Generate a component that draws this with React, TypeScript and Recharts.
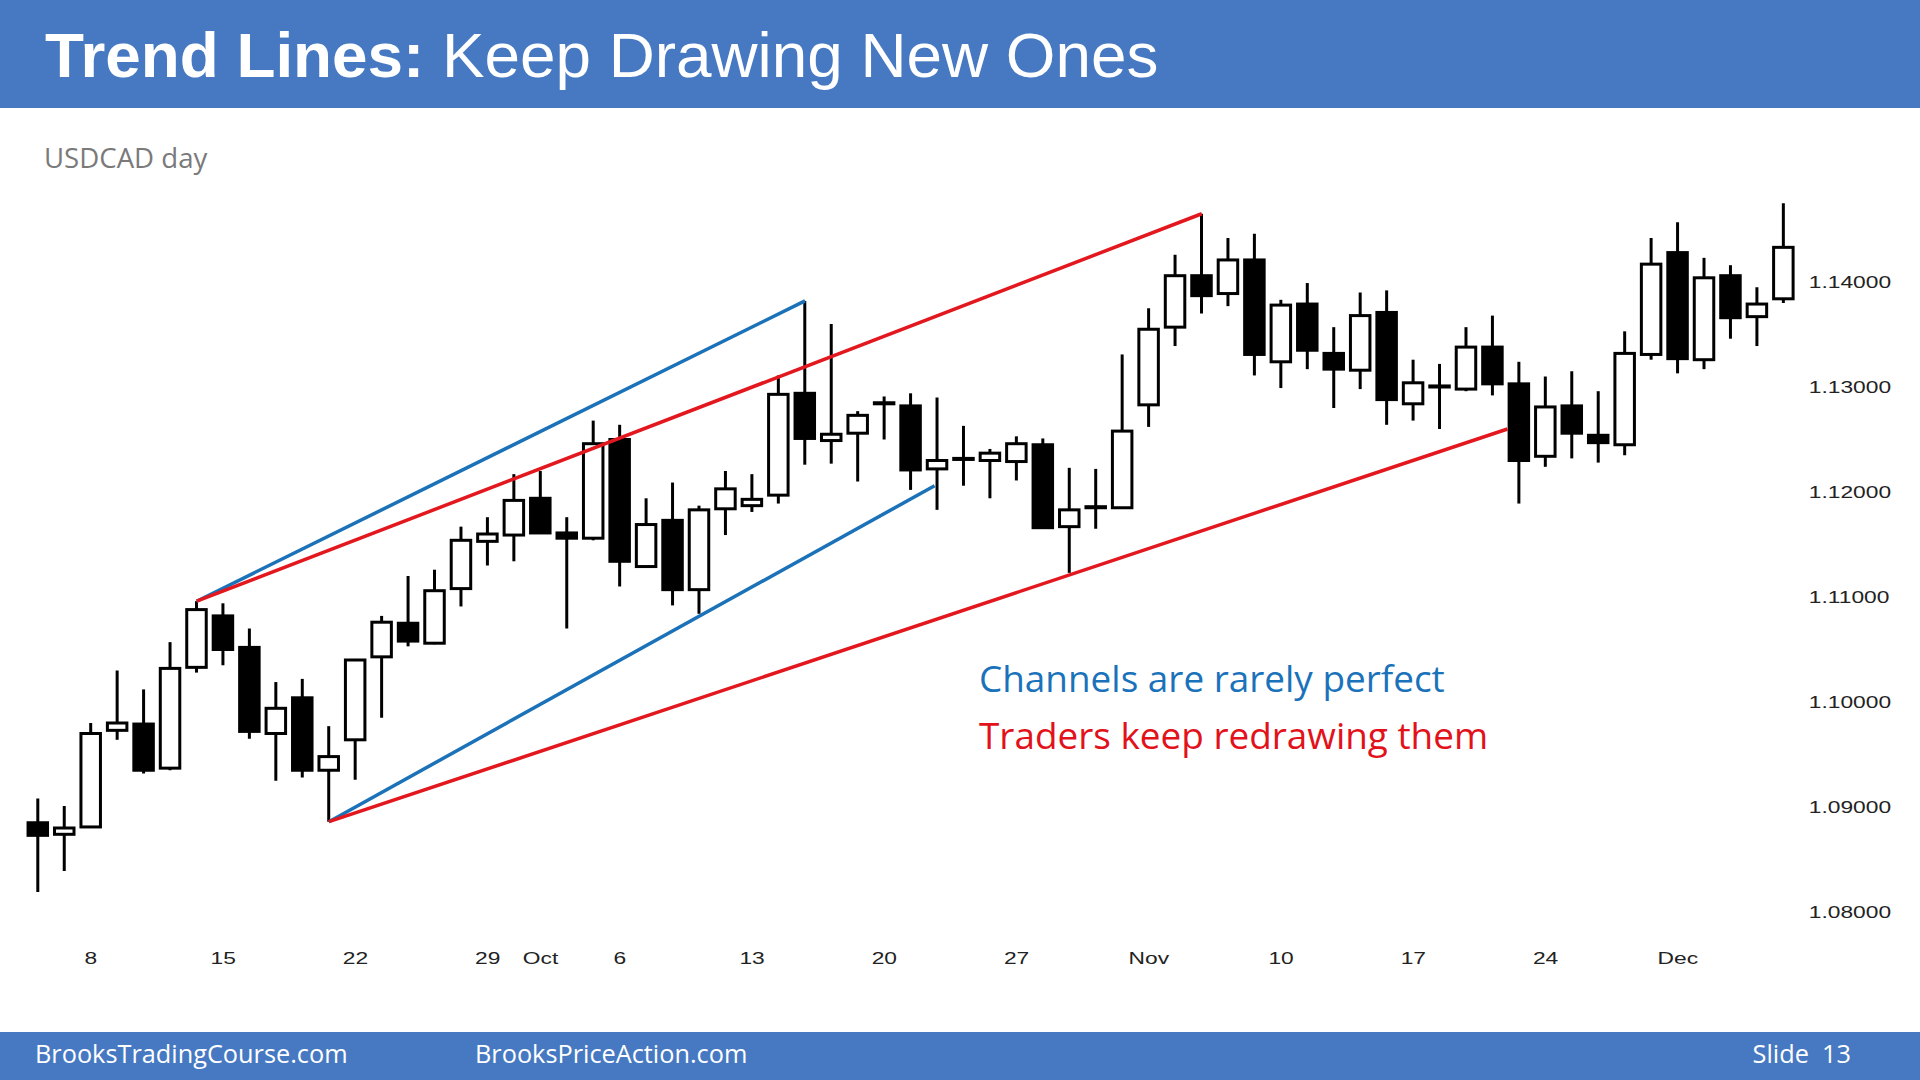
import React from "react";
import { ComposedChart, Bar, XAxis, YAxis, ReferenceLine } from "recharts";

// ---- data (USDCAD daily, Sep 4 – Dec 5, 2014) ----
const dates = [
  "2014-09-04", "2014-09-05",
  "2014-09-08", "2014-09-09", "2014-09-10", "2014-09-11", "2014-09-12",
  "2014-09-15", "2014-09-16", "2014-09-17", "2014-09-18", "2014-09-19",
  "2014-09-22", "2014-09-23", "2014-09-24", "2014-09-25", "2014-09-26",
  "2014-09-29", "2014-09-30", "2014-10-01", "2014-10-02", "2014-10-03",
  "2014-10-06", "2014-10-07", "2014-10-08", "2014-10-09", "2014-10-10",
  "2014-10-13", "2014-10-14", "2014-10-15", "2014-10-16", "2014-10-17",
  "2014-10-20", "2014-10-21", "2014-10-22", "2014-10-23", "2014-10-24",
  "2014-10-27", "2014-10-28", "2014-10-29", "2014-10-30", "2014-10-31",
  "2014-11-03", "2014-11-04", "2014-11-05", "2014-11-06", "2014-11-07",
  "2014-11-10", "2014-11-11", "2014-11-12", "2014-11-13", "2014-11-14",
  "2014-11-17", "2014-11-18", "2014-11-19", "2014-11-20", "2014-11-21",
  "2014-11-24", "2014-11-25", "2014-11-26", "2014-11-27", "2014-11-28",
  "2014-12-01", "2014-12-02", "2014-12-03", "2014-12-04", "2014-12-05",
];

const opens = [
  1.0885, 1.0874, 1.0881, 1.0973, 1.0979, 1.0937, 1.1033, 1.1082, 1.1052, 1.0970,
  1.1004, 1.0935, 1.0964, 1.1043, 1.1075, 1.1056, 1.1108, 1.1153, 1.1159, 1.1194,
  1.1161, 1.1156, 1.1250, 1.1129, 1.1173, 1.1107, 1.1184, 1.1187, 1.1197, 1.1294,
  1.1249, 1.1256, 1.1284, 1.1282, 1.1222, 1.1231, 1.1230, 1.1229, 1.1245, 1.1167,
  1.1185, 1.1185, 1.1283, 1.1357, 1.1406, 1.1389, 1.1421, 1.1324, 1.1379, 1.1332,
  1.1316, 1.1371, 1.1284, 1.1300, 1.1298, 1.1338, 1.1303, 1.1234, 1.1282, 1.1254,
  1.1245, 1.1331, 1.1428, 1.1326, 1.1406, 1.1367, 1.1384,
];
const highs = [
  1.0908, 1.0901, 1.0980, 1.1030, 1.1012, 1.1057, 1.1096, 1.1094, 1.1070, 1.1019,
  1.1022, 1.0977, 1.1041, 1.1082, 1.1120, 1.1126, 1.1167, 1.1176, 1.1217, 1.1220,
  1.1176, 1.1268, 1.1264, 1.1194, 1.1209, 1.1187, 1.1220, 1.1217, 1.1311, 1.1382,
  1.1360, 1.1277, 1.1291, 1.1294, 1.1290, 1.1263, 1.1241, 1.1253, 1.1251, 1.1223,
  1.1222, 1.1331, 1.1375, 1.1426, 1.1465, 1.1442, 1.1446, 1.1383, 1.1399, 1.1357,
  1.1390, 1.1392, 1.1326, 1.1322, 1.1357, 1.1368, 1.1324, 1.1310, 1.1315, 1.1296,
  1.1353, 1.1442, 1.1457, 1.1423, 1.1416, 1.1395, 1.1475,
];
const lows = [
  1.0819, 1.0839, 1.0880, 1.0964, 1.0932, 1.0935, 1.1028, 1.1035, 1.0965, 1.0925,
  1.0928, 1.0886, 1.0926, 1.0985, 1.1053, 1.1055, 1.1091, 1.1130, 1.1134, 1.1160,
  1.1070, 1.1154, 1.1110, 1.1128, 1.1092, 1.1084, 1.1159, 1.1181, 1.1189, 1.1226,
  1.1227, 1.1210, 1.1250, 1.1202, 1.1183, 1.1206, 1.1194, 1.1211, 1.1165, 1.1123,
  1.1165, 1.1184, 1.1262, 1.1339, 1.1370, 1.1377, 1.1311, 1.1299, 1.1317, 1.1280,
  1.1298, 1.1264, 1.1268, 1.1260, 1.1296, 1.1292, 1.1189, 1.1224, 1.1232, 1.1228,
  1.1235, 1.1326, 1.1313, 1.1317, 1.1346, 1.1339, 1.1380,
];
const closes = [
  1.0873, 1.0880, 1.0970, 1.0980, 1.0935, 1.1032, 1.1088, 1.1050, 1.0972, 1.0994,
  1.0935, 1.0948, 1.1040, 1.1076, 1.1058, 1.1106, 1.1154, 1.1160, 1.1192, 1.1161,
  1.1156, 1.1246, 1.1134, 1.1169, 1.1107, 1.1183, 1.1203, 1.1193, 1.1293, 1.1251,
  1.1255, 1.1273, 1.1285, 1.1221, 1.1230, 1.1232, 1.1237, 1.1246, 1.1166, 1.1183,
  1.1186, 1.1258, 1.1355, 1.1406, 1.1387, 1.1421, 1.1331, 1.1378, 1.1335, 1.1317,
  1.1368, 1.1288, 1.1304, 1.1301, 1.1338, 1.1303, 1.1230, 1.1281, 1.1256, 1.1247,
  1.1332, 1.1417, 1.1327, 1.1404, 1.1366, 1.1379, 1.1433,
];

const xTickIndex = [2, 7, 12, 17, 19, 22, 27, 32, 37, 42, 47, 52, 57, 62];
const xTickText = ["8", "15", "22", "29", "Oct", "6", "13", "20", "27", "Nov", "10", "17", "24", "Dec"];
const yTicks = [1.08, 1.09, 1.1, 1.11, 1.12, 1.13, 1.14];

// trend lines: [start bar index, start price, end bar index, end price]
const blueUpper = [6, 1.1096, 29, 1.1382];
const redUpper = [6, 1.1096, 44, 1.1465];
const blueLower = [11, 1.0886, 33.9, 1.1206];
const redLower = [11, 1.0886, 55.56, 1.126];

// ---- styles ----
const BLUE_BAND = "#4679C2";
const LINE_BLUE = "#1B72B8";
const LINE_RED = "#E3171E";
const TEXT_BLUE = "#1A72BA";
const TEXT_RED = "#E2111A";

const table = dates.map((d, i) => ({
  idx: i,
  date: d,
  open: opens[i],
  high: highs[i],
  low: lows[i],
  close: closes[i],
  range: [lows[i], highs[i]],
}));

const Candle = (props: any) => {
  const { x, y, width, height, payload } = props;
  if (x == null || payload == null) return null;
  const top = Math.min(y, y + height);
  const bot = Math.max(y, y + height);
  const { open, high, low, close } = payload;
  const span = high - low || 1e-9;
  const toY = (v: number) => top + ((high - v) / span) * (bot - top);
  const cx = x + width / 2;
  const yo = toY(open);
  const yc = toY(close);
  const bTop = Math.min(yo, yc);
  const bBot = Math.max(yo, yc);
  const up = close >= open;
  return (
    <g>
      <line x1={cx} x2={cx} y1={top} y2={bot} stroke="#000" strokeWidth={3} />
      <rect
        x={cx - 9.75}
        y={bTop}
        width={19.5}
        height={Math.max(bBot - bTop, 1)}
        fill={up ? "#fff" : "#000"}
        stroke="#000"
        strokeWidth={3}
      />
    </g>
  );
};

const XTick = (props: any) => {
  const { x, y, payload } = props;
  const k = xTickIndex.indexOf(payload.value);
  if (k < 0) return null;
  return (
    <g transform={`translate(${x},${y + 25.5})`}>
      <text
        transform="scale(1.34,1)"
        textAnchor="middle"
        fontFamily="'Liberation Sans', Arial, sans-serif"
        fontSize={17}
        fill="#222"
      >
        {xTickText[k]}
      </text>
    </g>
  );
};

const YTick = (props: any) => {
  const { x, y, payload } = props;
  return (
    <g transform={`translate(${x + 12},${y})`}>
      <text
        transform="scale(1.34,1)"
        textAnchor="start"
        dy="0.355em"
        fontFamily="'Liberation Sans', Arial, sans-serif"
        fontSize={17}
        fill="#222"
      >
        {Number(payload.value).toFixed(5)}
      </text>
    </g>
  );
};

const seg = (t: number[]) => [
  { x: t[0], y: t[1] },
  { x: t[2], y: t[3] },
];

export default function App() {
  return (
    <div
      style={{
        position: "absolute",
        left: 0,
        top: 0,
        width: 1920,
        height: 1080,
        overflow: "hidden",
        background: "#fff",
      }}
    >
      <div style={{ position: "absolute", left: 0, top: 0, width: 1920, height: 108, background: BLUE_BAND }} />
      <div style={{ position: "absolute", left: 0, top: 1032, width: 1920, height: 48, background: BLUE_BAND }} />

      <div style={{ position: "absolute", left: 0, top: 110 }}>
        <ComposedChart
          width={1920}
          height={890}
          data={table}
          margin={{ top: 61.75, right: 23.2, bottom: 21.75, left: 24.8 }}
        >
          <XAxis
            dataKey="idx"
            type="category"
            interval={0}
            tickLine={false}
            axisLine={false}
            tickSize={0}
            tickMargin={0}
            height={40}
            tick={<XTick />}
          />
          <XAxis
            xAxisId="num"
            dataKey="idx"
            type="number"
            domain={[-0.5, 66.5]}
            allowDataOverflow
            hide
          />
          <YAxis
            orientation="right"
            type="number"
            domain={[1.0775, 1.1505]}
            allowDataOverflow
            ticks={yTicks}
            interval={0}
            tickLine={false}
            axisLine={false}
            tickSize={0}
            tickMargin={0}
            width={100}
            tick={<YTick />}
          />
          <Bar dataKey="range" barSize={22} shape={<Candle />} isAnimationActive={false} />
          <ReferenceLine xAxisId="num" segment={seg(blueUpper)} stroke={LINE_BLUE} strokeWidth={3.5} ifOverflow="visible" />
          <ReferenceLine xAxisId="num" segment={seg(redUpper)} stroke={LINE_RED} strokeWidth={3.5} ifOverflow="visible" />
          <ReferenceLine xAxisId="num" segment={seg(blueLower)} stroke={LINE_BLUE} strokeWidth={3.5} ifOverflow="visible" />
          <ReferenceLine xAxisId="num" segment={seg(redLower)} stroke={LINE_RED} strokeWidth={3.5} ifOverflow="visible" />
        </ComposedChart>
      </div>

      <svg
        width={1920}
        height={1080}
        style={{ position: "absolute", left: 0, top: 0, pointerEvents: "none" }}
      >
        <text x={45} y={77} fontFamily="'Liberation Sans', Arial, sans-serif" fontSize={63.8} fill="#fff">
          <tspan fontWeight="bold">Trend Lines:</tspan>
          <tspan> Keep Drawing New Ones</tspan>
        </text>
        <text x={44} y={167.5} fontFamily="'Open Sans', sans-serif" fontSize={27.6} fill="#7a7a7a">
          USDCAD day
        </text>
        <text x={979} y={692} fontFamily="'Open Sans', sans-serif" fontSize={36.9} fill={TEXT_BLUE}>
          Channels are rarely perfect
        </text>
        <text x={979} y={749} fontFamily="'Open Sans', sans-serif" fontSize={36.9} fill={TEXT_RED}>
          Traders keep redrawing them
        </text>
        <text x={35} y={1063} fontFamily="'Open Sans', sans-serif" fontSize={25.3} fill="#fff">
          BrooksTradingCourse.com
        </text>
        <text x={475} y={1063} fontFamily="'Open Sans', sans-serif" fontSize={25.3} fill="#fff">
          BrooksPriceAction.com
        </text>
        <text x={1851} y={1063} textAnchor="end" fontFamily="'Open Sans', sans-serif" fontSize={25.3} fill="#fff" xmlSpace="preserve">
          Slide  13
        </text>
      </svg>
    </div>
  );
}
